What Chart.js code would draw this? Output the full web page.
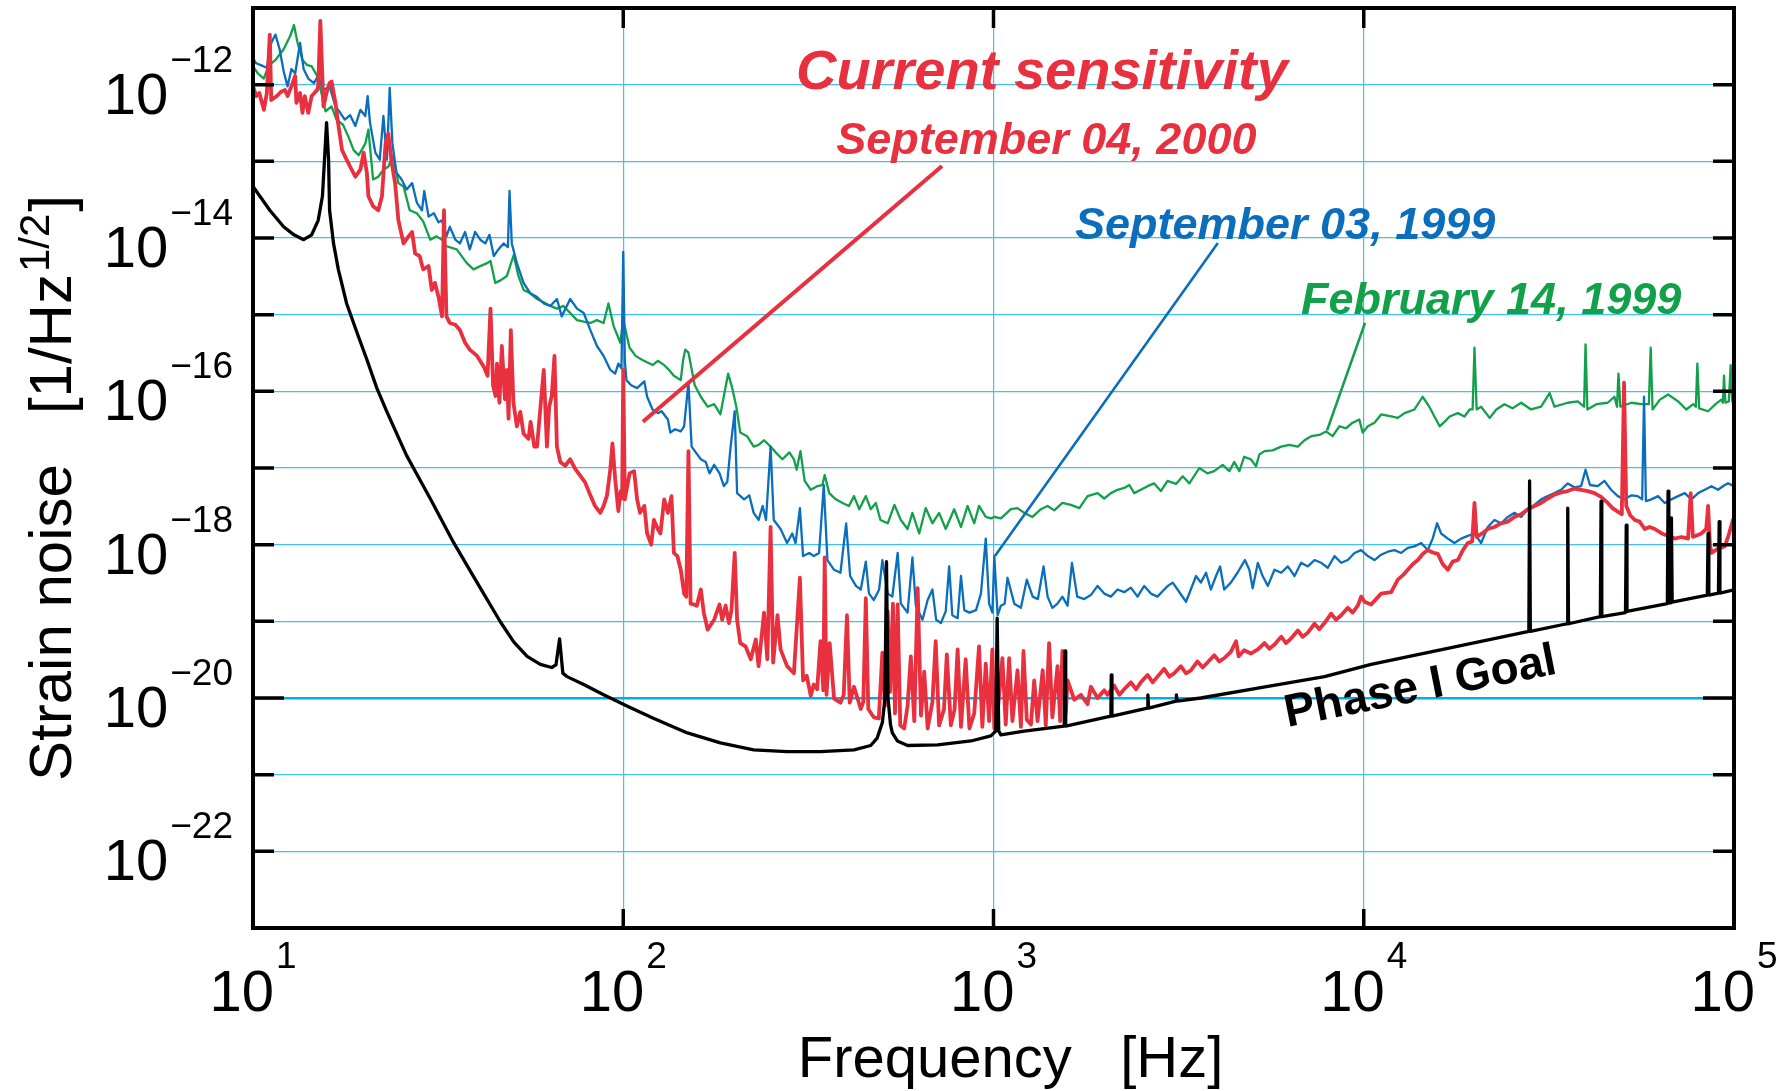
<!DOCTYPE html>
<html>
<head>
<meta charset="utf-8">
<title>Strain noise</title>
<script src="https://cdn.jsdelivr.net/npm/chart.js@4.4.1/dist/chart.umd.min.js"></script>
<style>
html, body { margin: 0; padding: 0; background: #fff; }
#wrap { width: 1790px; height: 1091px; }
</style>
</head>
<body>
<div id="wrap"><canvas id="c" width="1790" height="1091"></canvas></div>
<script>
// axes
const xMin = 10, xMax = 1e5, yMin = 1e-23, yMax = 1e-11;
const xGridValues = [1e1, 1e2, 1e3, 1e4, 1e5];
const xLabelExp = [1, 2, 3, 4, 5];
const yGridValues = [1e-11, 1e-12, 1e-13, 1e-14, 1e-15, 1e-16, 1e-17, 1e-18, 1e-19, 1e-20, 1e-21, 1e-22, 1e-23];
const yLabelExp = [-12, -14, -16, -18, -20, -22];

// Phase I Goal
const goalFreq = [10, 11.1, 12.1, 12.9, 13.7, 14.4, 15.0, 15.4, 15.6, 15.8,
  16.0, 16.1, 16.5, 17.0, 17.9, 19.1, 20.3, 21.6, 23.0, 26.0,
  30.1, 34.8, 40.3, 46.6, 50.6, 55.0, 59.7, 64.1, 65.8, 67.3,
  68.7, 70.5, 78.2, 88.5, 104, 121, 149, 183, 225, 277,
  341, 420, 466, 485, 501, 509, 514, 519, 527, 533,
  550, 586, 706, 869, 984, 1014, 1023, 1033, 1047, 1211,
  1552, 1560, 1567, 2075, 2080, 2089, 2606, 2612, 2624, 3112,
  3119, 3133, 3631, 5176, 7834, 10470, 27920, 28050, 28180, 35400,
  35560, 35730, 43550, 43750, 43950, 50930, 51170, 51400, 66070, 66370,
  66680, 67450, 67760, 68080, 84720, 85110, 85510, 90780, 91200, 91620,
  100000];
const goalStrain = [4.7e-14, 2.3e-14, 1.4e-14, 1.1e-14, 9.5e-15, 1.1e-14, 1.7e-14, 3.5e-14, 1.05e-13, 3.2e-13,
  1.05e-13, 2.3e-14, 8.5e-15, 3.9e-15, 1.4e-15, 5.8e-16, 2.6e-16, 1.1e-16, 5.4e-17, 1.45e-17,
  4.0e-18, 1.07e-18, 3.2e-19, 9.8e-20, 5.4e-20, 3.5e-20, 2.75e-20, 2.5e-20, 2.7e-20, 5.9e-20,
  2.1e-20, 1.9e-20, 1.5e-20, 1.1e-20, 7.6e-21, 5.4e-21, 3.5e-21, 2.6e-21, 2.1e-21, 2.0e-21,
  2.0e-21, 2.1e-21, 2.4e-21, 3.0e-21, 4.8e-21, 9.8e-21, 6.0e-19, 9.8e-21, 4.5e-21, 3.5e-21,
  2.75e-21, 2.4e-21, 2.45e-21, 2.75e-21, 3.2e-21, 3.7e-21, 1.1e-19, 3.7e-21, 3.3e-21, 3.7e-21,
  4.3e-21, 4.1e-20, 4.3e-21, 5.8e-21, 2.0e-20, 5.8e-21, 7.4e-21, 1.1e-20, 7.4e-21, 9.1e-21,
  1.1e-20, 9.1e-21, 1.0e-20, 1.35e-20, 1.9e-20, 2.75e-20, 7.4e-20, 6.8e-18, 7.4e-20, 9.3e-20,
  3.0e-18, 9.3e-20, 1.15e-19, 3.7e-18, 1.15e-19, 1.3e-19, 1.8e-18, 1.35e-19, 1.7e-19, 5.0e-18,
  1.74e-19, 1.74e-19, 2.24e-18, 1.78e-19, 2.2e-19, 1.4e-18, 2.2e-19, 2.34e-19, 2.0e-18, 2.34e-19,
  2.57e-19];

// September 04, 2000
const sep00Freq = [10.0, 10.2, 10.4, 10.7, 10.9, 11.1, 11.2, 11.6, 11.9, 12.2,
  12.4, 12.7, 13.0, 13.1, 13.4, 13.6, 13.8, 14.1, 14.4, 14.9,
  15.0, 15.2, 15.5, 15.8, 16.1, 16.3, 16.7, 17.0, 17.4, 17.9,
  18.3, 18.9, 19.5, 19.9, 20.3, 20.5, 21.1, 21.8, 22.3, 22.8,
  23.2, 23.7, 24.2, 24.7, 25.5, 26.3, 26.9, 27.4, 28.2, 28.8,
  29.8, 30.4, 31.0, 31.7, 32.4, 32.8, 33.3, 34.0, 35.2, 36.2,
  37.4, 38.5, 40.3, 42.0, 43.0, 43.8, 44.5, 45.2, 45.6, 46.3,
  47.0, 47.9, 48.5, 49.0, 49.7, 50.5, 51.6, 52.7, 53.8, 55.5,
  56.2, 57.5, 58.5, 59.7, 61.0, 62.2, 63.1, 64.1, 65.2, 66.2,
  67.6, 69.7, 71.9, 74.1, 76.6, 78.9, 81.5, 83.9, 86.7, 88.5,
  90.4, 92.3, 93.5, 95.1, 97.0, 98.4, 99.3, 100, 101, 104,
  107, 109, 111, 114, 116, 119, 121, 124, 126, 129,
  132, 135, 137, 140, 143, 146, 148, 150, 152, 155,
  158, 162, 165, 169, 172, 176, 182, 185, 189, 193,
  196, 200, 203, 207, 214, 221, 228, 232, 240, 245,
  250, 254, 261, 266, 277, 289, 300, 306, 313, 321,
  327, 334, 341, 347, 350, 354, 361, 371, 386, 394,
  402, 409, 420, 438, 445, 452, 459, 475, 490, 501,
  509, 518, 526, 535, 542, 551, 560, 574, 586, 598,
  611, 624, 637, 650, 664, 684, 698, 713, 735, 748,
  767, 785, 800, 817, 841, 861, 887, 914, 933, 953,
  973, 993, 1005, 1023, 1057, 1079, 1102, 1125, 1161, 1186,
  1205, 1230, 1262, 1288, 1315, 1358, 1384, 1413, 1442, 1489,
  1514, 1535, 1567, 1585, 1652, 1722, 1795, 1832, 1910, 1991,
  2032, 2118, 2188, 2254, 2350, 2427, 2500, 2606, 2692, 2773,
  2891, 2985, 3076, 3206, 3311, 3412, 3556, 3673, 3784, 3945,
  4074, 4198, 4375, 4519, 4592, 4753, 4955, 5176, 5395, 5559,
  5741, 5984, 6166, 6368, 6637, 6839, 7063, 7362, 7586, 7834,
  8166, 8414, 8690, 9057, 9333, 9638, 9840, 10050, 10470, 11140,
  11860, 12360, 12760, 13150, 13580, 14000, 14450, 14890, 15350, 15850,
  16330, 16870, 17380, 17950, 18530, 19100, 19630, 19910, 20180, 20890,
  21630, 22540, 23500, 24490, 25530, 26610, 27730, 28910, 30130, 31410,
  32730, 34120, 35560, 37070, 38640, 40270, 41980, 43750, 45600, 46990,
  48530, 49770, 50470, 51170, 52480, 53950, 55590, 57410, 59160, 61090,
  63830, 66530, 69180, 72110, 75160, 76380, 77450, 81660, 84140, 85110,
  86100, 86900, 90570, 94410, 96600, 99310, 100000];
const sep00Strain = [9.5e-13, 7.1e-13, 7.8e-13, 4.7e-13, 7.8e-13, 4.5e-12, 6.3e-13, 7.1e-13, 8.1e-13, 8.5e-13,
  7.1e-13, 9.5e-13, 1.3e-12, 5.8e-13, 7.8e-13, 4.3e-13, 7.1e-13, 4.3e-13, 7.1e-13, 8.5e-13,
  9.5e-13, 6.8e-12, 5.2e-13, 7.8e-13, 1.05e-12, 1.1e-12, 5.8e-13, 3.0e-13, 1.4e-13, 1.05e-13,
  8.5e-14, 6.3e-14, 7.8e-14, 1.3e-13, 7.1e-14, 3.5e-14, 2.6e-14, 2.3e-14, 3.5e-14, 1.7e-13,
  2.3e-13, 9.5e-14, 5.2e-14, 1.7e-14, 8.5e-15, 1.05e-14, 1.2e-14, 6.3e-15, 5.8e-15, 3.9e-15,
  4.3e-15, 2.1e-15, 2.6e-15, 1.7e-15, 9.5e-16, 2.3e-14, 9.5e-16, 7.8e-16, 7.4e-16, 6.3e-16,
  4.3e-16, 3.5e-16, 2.9e-16, 2.1e-16, 1.6e-16, 1.2e-15, 1.2e-16, 8.7e-17, 2.3e-16, 7.1e-17,
  3.9e-16, 7.9e-17, 1.9e-16, 4.4e-17, 6.3e-16, 7.2e-17, 3.5e-17, 5.4e-17, 2.8e-17, 2.4e-17,
  4.0e-17, 1.9e-17, 1.9e-17, 5.9e-17, 1.9e-16, 1.9e-17, 6.3e-17, 8.7e-17, 2.9e-16, 1.9e-17,
  1.2e-17, 1.07e-17, 1.3e-17, 9.8e-18, 7.9e-18, 6.5e-18, 4.4e-18, 3.2e-18, 2.6e-18, 3.2e-18,
  4.4e-18, 9.8e-18, 2.1e-17, 7.2e-18, 2.75e-18, 5.0e-18, 4.0e-18, 1.9e-16, 3.9e-18, 8.5e-18,
  9.1e-18, 3.9e-18, 2.6e-18, 3.2e-18, 1.4e-18, 1.0e-18, 2.1e-18, 1.6e-18, 1.4e-18, 3.9e-18,
  2.6e-18, 4.3e-18, 7.8e-19, 7.1e-19, 4.7e-19, 2.3e-19, 2.1e-19, 1.66e-17, 1.7e-19, 1.66e-19,
  1.6e-19, 2.6e-19, 1.3e-19, 7.8e-20, 8.9e-20, 1.05e-19, 1.66e-19, 1.05e-19, 1.6e-19, 9.5e-20,
  1.4e-19, 7.8e-19, 1.05e-19, 5.2e-20, 4.7e-20, 3.2e-20, 5.8e-20, 2.6e-20, 1.3e-19, 3.2e-20,
  1.7e-18, 2.9e-20, 1.2e-19, 4.3e-20, 2.6e-20, 2.1e-20, 3.7e-19, 1.7e-20, 1.95e-20, 1.07e-20,
  1.5e-20, 1.3e-20, 5.5e-20, 1.26e-20, 6.8e-19, 1.1e-20, 5.2e-20, 9.8e-21, 8.7e-21, 1.1e-20,
  1.2e-19, 8.7e-21, 1.4e-20, 7.2e-21, 8.9e-21, 2.0e-19, 7.2e-21, 5.6e-21, 5.4e-21, 3.9e-20,
  7.9e-21, 1.35e-19, 1.2e-20, 1.7e-19, 6.3e-21, 1.66e-19, 4.4e-21, 4.0e-21, 7.9e-21, 3.5e-20,
  5.0e-21, 2.7e-19, 5.9e-21, 2.2e-20, 4.0e-21, 8.9e-21, 5.5e-20, 4.4e-21, 7.1e-21, 3.7e-20,
  4.4e-21, 7.1e-21, 4.3e-20, 4.2e-21, 3.2e-20, 4.0e-21, 6.3e-21, 4.7e-20, 4.2e-21, 2.8e-20,
  5.0e-21, 4.3e-20, 4.0e-21, 5.6e-21, 3.3e-20, 4.5e-21, 3.3e-20, 5.0e-21, 2.3e-20, 4.2e-21,
  4.1e-20, 5.2e-21, 4.5e-21, 1.7e-20, 5.0e-21, 2.3e-20, 4.4e-21, 5.2e-20, 5.6e-21, 2.6e-20,
  5.0e-21, 4.1e-20, 6.3e-21, 1.7e-20, 9.5e-21, 1.1e-20, 8.3e-21, 1.4e-20, 1.0e-20, 1.26e-20,
  1.1e-20, 1.45e-20, 1.1e-20, 1.3e-20, 1.6e-20, 1.3e-20, 1.6e-20, 2.0e-20, 1.6e-20, 1.9e-20,
  2.4e-20, 1.9e-20, 2.1e-20, 2.6e-20, 2.1e-20, 2.3e-20, 3.0e-20, 2.5e-20, 2.9e-20, 3.6e-20,
  3.0e-20, 3.3e-20, 4.0e-20, 5.5e-20, 3.5e-20, 4.2e-20, 3.8e-20, 4.3e-20, 5.2e-20, 4.4e-20,
  5.0e-20, 6.3e-20, 5.2e-20, 6.0e-20, 7.6e-20, 6.3e-20, 7.1e-20, 9.3e-20, 7.9e-20, 9.5e-20,
  1.26e-19, 1.05e-19, 1.2e-19, 1.5e-19, 1.3e-19, 1.6e-19, 2.1e-19, 1.8e-19, 1.66e-19, 2.3e-19,
  2.4e-19, 3.5e-19, 4.0e-19, 4.7e-19, 5.6e-19, 6.3e-19, 7.6e-19, 8.5e-19, 7.9e-19, 7.6e-19,
  5.6e-19, 4.7e-19, 6.0e-19, 6.3e-19, 8.5e-19, 1.05e-18, 1.1e-18, 3.5e-18, 1.26e-18, 1.4e-18,
  1.6e-18, 1.7e-18, 1.9e-18, 2.0e-18, 2.3e-18, 2.5e-18, 2.9e-18, 3.2e-18, 3.5e-18, 4.0e-18,
  4.5e-18, 4.8e-18, 5.0e-18, 5.4e-18, 5.2e-18, 5.0e-18, 4.7e-18, 4.2e-18, 3.5e-18, 3.0e-18,
  2.7e-18, 2.5e-18, 1.3e-16, 3.2e-18, 2.4e-18, 2.1e-18, 2.0e-18, 1.6e-18, 1.7e-18, 1.6e-18,
  1.4e-18, 1.3e-18, 1.2e-18, 1.26e-18, 1.2e-18, 4.7e-18, 1.26e-18, 1.4e-18, 1.6e-18, 3.2e-18,
  1.0e-18, 7.8e-19, 8.9e-19, 9.5e-19, 1.3e-18, 2.1e-18, 1.8e-18];

// September 03, 1999
const sep99Freq = [10.0, 10.2, 10.5, 10.9, 11.2, 11.5, 11.8, 12.1, 12.4, 12.7,
  13.0, 13.4, 13.7, 14.1, 14.6, 15.0, 15.5, 16.1, 16.7, 17.2,
  17.7, 18.3, 18.9, 19.5, 20.1, 20.4, 20.7, 21.4, 22.0, 22.5,
  23.0, 23.4, 23.8, 24.4, 25.2, 26.0, 26.9, 27.7, 28.6, 29.0,
  29.8, 30.8, 31.7, 32.4, 33.3, 34.0, 35.2, 36.2, 37.4, 38.5,
  39.8, 41.1, 42.4, 43.5, 44.7, 46.0, 47.5, 48.8, 49.3, 50.0,
  51.6, 53.8, 56.1, 58.5, 61.0, 63.5, 66.2, 68.2, 71.9, 75.0,
  78.2, 81.5, 84.9, 88.5, 92.3, 95.1, 97.0, 98.9, 100, 101,
  102, 105, 109, 114, 116, 120, 124, 127, 132, 134,
  138, 143, 146, 150, 153, 157, 162, 167, 171, 176,
  182, 187, 191, 195, 200, 203, 212, 219, 225, 232,
  238, 243, 250, 255, 266, 277, 286, 292, 300, 306,
  318, 327, 338, 348, 356, 371, 386, 400, 410, 425,
  438, 452, 461, 475, 491, 501, 518, 533, 551, 562,
  586, 604, 617, 643, 664, 684, 700, 721, 743, 759,
  774, 800, 817, 834, 861, 897, 925, 953, 973, 993,
  1005, 1026, 1047, 1072, 1091, 1138, 1186, 1230, 1276, 1318,
  1365, 1400, 1442, 1489, 1535, 1585, 1629, 1683, 1758, 1832,
  1910, 1991, 2075, 2163, 2254, 2350, 2449, 2553, 2661, 2773,
  2891, 2958, 3048, 3141, 3311, 3412, 3524, 3631, 3750, 3864,
  3990, 4093, 4198, 4375, 4560, 4775, 4909, 5012, 5176, 5333,
  5508, 5741, 5984, 6237, 6501, 6776, 7063, 7362, 7674, 7998,
  8337, 8690, 9057, 9441, 9840, 10260, 10690, 11140, 11610, 12110,
  12620, 13150, 13710, 14290, 14890, 15350, 15780, 16180, 16870, 17580,
  18320, 19100, 19910, 20750, 21630, 22540, 23500, 24490, 25530, 26610,
  27730, 28910, 30130, 31410, 32730, 34120, 35560, 37070, 38640, 39720,
  40830, 42850, 44670, 46560, 48530, 50580, 52840, 54950, 56490, 57150,
  57810, 59840, 62370, 65010, 67760, 70630, 73620, 76740, 79980, 83370,
  86900, 90570, 94410, 96380, 100000];
const sep99Strain = [2.2e-12, 1.9e-12, 1.8e-12, 1.66e-12, 3.5e-12, 4.5e-12, 2.9e-12, 1.5e-12, 9.5e-13, 1.6e-12,
  1.4e-12, 3.5e-12, 1.6e-12, 1.2e-12, 1.05e-12, 1.3e-12, 8.5e-13, 9.5e-13, 5.2e-13, 4.3e-13,
  3.5e-13, 4.0e-13, 2.9e-13, 4.7e-13, 3.9e-13, 7.1e-13, 3.2e-13, 1.3e-13, 1.05e-13, 3.9e-13,
  1.05e-13, 9.1e-13, 1.7e-13, 7.1e-14, 5.8e-14, 4.3e-14, 5.2e-14, 2.9e-14, 2.3e-14, 4.1e-14,
  1.9e-14, 2.1e-14, 1.6e-14, 1.7e-14, 1.05e-14, 1.4e-14, 9.5e-15, 8.5e-15, 1.2e-14, 7.1e-15,
  1.2e-14, 9.5e-15, 8.5e-15, 1.1e-14, 5.8e-15, 7.1e-15, 8.5e-15, 7.6e-15, 4.1e-14, 8.5e-15,
  4.7e-15, 2.6e-15, 1.9e-15, 1.7e-15, 1.4e-15, 1.3e-15, 1.6e-15, 9.5e-16, 1.6e-15, 1.2e-15,
  1.05e-15, 6.3e-16, 3.9e-16, 2.9e-16, 1.9e-16, 1.7e-16, 2.3e-16, 2.0e-16, 6.6e-15, 2.5e-16,
  1.4e-16, 1.2e-16, 1.1e-16, 1.35e-16, 8.5e-17, 5.8e-17, 5.2e-17, 5.5e-17, 4.3e-17, 2.9e-17,
  3.2e-17, 3.0e-17, 3.5e-17, 1.3e-16, 1.9e-17, 1.6e-17, 1.3e-17, 1.2e-17, 8.5e-18, 1.1e-17,
  8.5e-18, 5.8e-18, 6.6e-18, 1.9e-17, 5.5e-17, 4.7e-18, 3.9e-18, 4.4e-18, 2.6e-18, 2.1e-18,
  3.2e-18, 2.1e-18, 1.9e-17, 2.1e-18, 1.6e-18, 1.05e-18, 1.4e-18, 1.05e-18, 3.0e-18, 7.1e-19,
  7.8e-19, 7.1e-19, 7.8e-19, 6.0e-18, 6.3e-19, 4.7e-19, 4.3e-19, 1.9e-18, 3.9e-19, 2.9e-19,
  2.6e-19, 6.0e-19, 2.3e-19, 1.9e-19, 2.6e-19, 6.3e-19, 2.3e-19, 2.1e-19, 7.8e-19, 1.7e-19,
  1.3e-19, 6.8e-19, 1.6e-19, 1.05e-19, 1.9e-19, 2.6e-19, 1.05e-19, 9.5e-20, 1.35e-19, 5.2e-19,
  1.2e-19, 1.1e-19, 3.9e-19, 1.4e-19, 1.3e-19, 1.4e-19, 2.3e-19, 1.2e-18, 1.7e-19, 1.3e-19,
  7.1e-19, 1.2e-19, 1.6e-19, 1.7e-19, 3.7e-19, 1.7e-19, 1.5e-19, 3.5e-19, 2.1e-19, 1.95e-19,
  5.2e-19, 2.1e-19, 1.5e-19, 1.7e-19, 2.1e-19, 1.6e-19, 5.8e-19, 2.1e-19, 1.95e-19, 2.2e-19,
  2.9e-19, 2.3e-19, 2.1e-19, 2.6e-19, 2.4e-19, 2.75e-19, 2.1e-19, 2.9e-19, 2.3e-19, 2.1e-19,
  2.6e-19, 2.9e-19, 3.2e-19, 2.6e-19, 1.8e-19, 2.6e-19, 3.9e-19, 3.2e-19, 4.3e-19, 2.6e-19,
  3.9e-19, 5.2e-19, 2.6e-19, 3.2e-19, 4.3e-19, 6.3e-19, 4.7e-19, 2.7e-19, 5.8e-19, 3.9e-19,
  2.9e-19, 4.7e-19, 4.3e-19, 5.2e-19, 3.9e-19, 5.8e-19, 5.2e-19, 6.3e-19, 5.8e-19, 5.0e-19,
  7.1e-19, 5.8e-19, 6.3e-19, 7.8e-19, 8.5e-19, 7.1e-19, 6.3e-19, 7.4e-19, 8.1e-19, 8.5e-19,
  7.8e-19, 9.1e-19, 9.5e-19, 1.05e-18, 8.5e-19, 1.2e-18, 1.9e-18, 1.4e-18, 1.2e-18, 1.05e-18,
  1.2e-18, 1.3e-18, 1.4e-18, 1.05e-18, 1.7e-18, 2.1e-18, 1.9e-18, 2.3e-18, 2.6e-18, 2.3e-18,
  2.9e-18, 3.3e-18, 3.9e-18, 4.3e-18, 4.7e-18, 5.2e-18, 6.3e-18, 5.6e-18, 5.8e-18, 9.5e-18,
  6.0e-18, 5.8e-18, 6.8e-18, 5.2e-18, 4.3e-18, 3.9e-18, 4.4e-18, 4.3e-18, 3.9e-18, 8.5e-17,
  3.7e-18, 3.9e-18, 4.3e-18, 3.5e-18, 3.9e-18, 4.3e-18, 4.7e-18, 3.9e-18, 4.7e-18, 5.2e-18,
  5.8e-18, 5.2e-18, 6.0e-18, 6.3e-18, 5.8e-18];

// February 14, 1999
const feb99Freq = [10.0, 10.3, 10.7, 11.0, 11.5, 12.1, 12.6, 12.9, 13.2, 13.6,
  14.0, 14.4, 14.9, 15.3, 15.7, 16.3, 16.8, 17.5, 18.1, 18.7,
  19.3, 20.1, 20.5, 21.1, 21.8, 22.5, 23.2, 23.9, 24.7, 25.5,
  26.5, 27.7, 28.8, 30.1, 31.3, 32.4, 33.3, 35.5, 37.8, 39.4,
  41.1, 42.9, 43.8, 45.1, 46.6, 48.5, 50.6, 52.1, 53.8, 56.1,
  58.5, 61.0, 63.5, 66.2, 69.0, 71.9, 75.0, 78.2, 81.5, 84.9,
  88.5, 91.2, 94.2, 98.2, 100, 104, 108, 112, 120, 124,
  129, 133, 137, 143, 145, 147, 150, 156, 162, 169,
  176, 183, 188, 192, 197, 202, 207, 216, 225, 232,
  240, 250, 258, 269, 281, 289, 294, 301, 309, 321,
  334, 345, 350, 360, 375, 391, 407, 420, 434, 452,
  466, 481, 495, 518, 540, 562, 586, 604, 630, 656,
  684, 713, 743, 783, 817, 851, 887, 914, 953, 984,
  1005, 1047, 1114, 1161, 1211, 1274, 1343, 1400, 1459, 1535,
  1618, 1706, 1795, 1910, 1991, 2075, 2163, 2254, 2328, 2399,
  2500, 2606, 2716, 2831, 2951, 3112, 3243, 3381, 3597, 3784,
  3945, 4159, 4335, 4467, 4613, 4753, 4955, 5117, 5224, 5395,
  5675, 5984, 6295, 6637, 6918, 7211, 7586, 7907, 8241, 8590,
  8954, 9333, 9727, 9931, 10260, 10690, 11140, 11860, 12360, 12880,
  13710, 14420, 15030, 15520, 16030, 16520, 17060, 17950, 18710, 19320,
  19680, 19910, 20180, 20750, 21880, 22800, 23990, 25230, 26610, 28310,
  30130, 31770, 32730, 35560, 37840, 39360, 39720, 40180, 42460, 45600,
  47530, 48310, 48750, 49320, 52840, 56230, 58880, 59570, 60260, 63100,
  66370, 70630, 74300, 77620, 78890, 79620, 80540, 85110, 89130, 92470,
  93330, 93970, 94840, 96830, 97950, 98860, 100000];
const feb99Strain = [1.74e-12, 1.4e-12, 1.2e-12, 1.74e-12, 2.1e-12, 2.9e-12, 4.3e-12, 6.0e-12, 3.5e-12, 2.1e-12,
  1.8e-12, 1.74e-12, 1.3e-12, 7.8e-13, 4.5e-13, 5.2e-13, 3.5e-13, 3.0e-13, 2.1e-13, 1.4e-13,
  1.2e-13, 1.7e-13, 2.6e-13, 5.8e-14, 6.3e-14, 7.8e-14, 8.5e-14, 1.2e-13, 5.2e-14, 4.7e-14,
  2.3e-14, 2.1e-14, 1.66e-14, 9.5e-15, 1.05e-14, 9.5e-15, 7.8e-15, 7.1e-15, 4.7e-15, 3.9e-15,
  4.3e-15, 4.7e-15, 5.0e-15, 2.6e-15, 2.8e-15, 3.2e-15, 6.0e-15, 3.2e-15, 2.1e-15, 1.9e-15,
  1.6e-15, 1.45e-15, 1.3e-15, 1.2e-15, 1.3e-15, 1.05e-15, 8.5e-16, 8.1e-16, 7.8e-16, 8.5e-16,
  7.8e-16, 1.4e-15, 7.1e-16, 4.3e-16, 8.5e-16, 3.7e-16, 2.9e-16, 2.6e-16, 2.2e-16, 2.5e-16,
  2.2e-16, 1.9e-16, 1.6e-16, 1.4e-16, 2.5e-16, 3.5e-16, 3.2e-16, 1.2e-16, 8.5e-17, 6.3e-17,
  6.8e-17, 5.0e-17, 1.0e-16, 1.7e-16, 1.1e-16, 6.3e-17, 2.9e-17, 2.6e-17, 1.9e-17, 2.0e-17,
  2.3e-17, 1.9e-17, 1.6e-17, 1.3e-17, 1.6e-17, 1.3e-17, 9.5e-18, 1.66e-17, 6.8e-18, 5.2e-18,
  5.8e-18, 6.0e-18, 8.1e-18, 4.7e-18, 3.9e-18, 3.5e-18, 3.2e-18, 4.3e-18, 2.9e-18, 4.3e-18,
  2.9e-18, 3.5e-18, 2.1e-18, 1.9e-18, 3.3e-18, 2.1e-18, 1.6e-18, 2.6e-18, 1.4e-18, 3.0e-18,
  1.9e-18, 2.6e-18, 1.6e-18, 2.9e-18, 1.7e-18, 3.2e-18, 1.9e-18, 3.2e-18, 2.3e-18, 2.2e-18,
  2.3e-18, 2.2e-18, 2.9e-18, 3.0e-18, 2.6e-18, 2.3e-18, 2.9e-18, 3.2e-18, 2.8e-18, 3.5e-18,
  3.3e-18, 3.0e-18, 4.3e-18, 4.7e-18, 4.0e-18, 4.7e-18, 5.2e-18, 5.5e-18, 6.0e-18, 4.7e-18,
  5.2e-18, 5.8e-18, 6.3e-18, 5.0e-18, 6.8e-18, 6.2e-18, 7.8e-18, 6.3e-18, 1.0e-17, 8.5e-18,
  9.1e-18, 1.1e-17, 9.1e-18, 1.2e-17, 9.1e-18, 1.4e-17, 1.3e-17, 1.05e-17, 1.5e-17, 1.66e-17,
  1.7e-17, 1.9e-17, 2.0e-17, 1.9e-17, 2.3e-17, 2.6e-17, 2.7e-17, 3.0e-17, 2.6e-17, 3.5e-17,
  3.3e-17, 3.9e-17, 4.3e-17, 2.9e-17, 3.5e-17, 3.9e-17, 5.0e-17, 4.7e-17, 4.5e-17, 5.2e-17,
  5.8e-17, 8.5e-17, 6.3e-17, 4.7e-17, 3.5e-17, 4.0e-17, 4.7e-17, 5.2e-17, 4.7e-17, 5.8e-17,
  5.8e-17, 3.7e-16, 5.8e-17, 6.3e-17, 4.5e-17, 5.8e-17, 6.8e-17, 6.0e-17, 7.1e-17, 5.8e-17,
  6.3e-17, 9.5e-17, 6.3e-17, 7.1e-17, 7.4e-17, 6.3e-17, 4.1e-16, 5.8e-17, 6.8e-17, 7.1e-17,
  8.5e-17, 6.3e-17, 1.7e-16, 6.3e-17, 7.1e-17, 6.8e-17, 6.8e-17, 3.7e-16, 5.8e-17, 7.8e-17,
  9.1e-17, 7.4e-17, 5.8e-17, 6.8e-17, 6.3e-17, 2.3e-16, 6.0e-17, 5.5e-17, 6.8e-17, 7.8e-17,
  7.1e-17, 1.6e-16, 7.1e-17, 7.4e-17, 2.2e-16, 7.8e-17, 5.8e-17];

// pointer lines from the labels to the curves
const sep00PointerFreq = [726, 113], sep00PointerStrain = [8.7e-14, 4.0e-17];
const sep99PointerFreq = [4036, 1009], sep99PointerStrain = [8.6e-15, 7.1e-19];
const feb99PointerFreq = [10080, 7960], feb99PointerStrain = [7.8e-16, 3.1e-17];

// labels in the plot
const noteText = ['Current sensitivity', 'September 04, 2000', 'September 03, 1999', 'February 14, 1999', 'Phase I Goal'];
const noteFreq = [293, 376, 1660, 6770, 14450];
const noteStrain = [8.8e-13, 1.25e-13, 9.7e-15, 1.02e-15, 9.4e-21];

const RED = '#e8303f', BLUE = '#0a6ebd', GREEN = '#12a04a', BLACK = '#000000';
const GRID = '#42c0ee';
const FONT = '"Liberation Sans", Arial, Helvetica, sans-serif';

function pts(fs, hs) {
  return fs.map((f, i) => ({ x: f, y: hs[i] }));
}

function line(data, color, width) {
  return { data, borderColor: color, borderWidth: width, showLine: true, pointRadius: 0,
           fill: false, tension: 0, borderJoinStyle: 'round', borderCapStyle: 'butt' };
}

const datasets = [
  line(pts(sep00PointerFreq, sep00PointerStrain), RED, 4),
  line(pts(sep99PointerFreq, sep99PointerStrain), BLUE, 2.6),
  line(pts(feb99PointerFreq, feb99PointerStrain), GREEN, 2.6),
  line(pts(goalFreq, goalStrain), BLACK, 3.3),
  line(pts(sep00Freq, sep00Strain), RED, 3.8),
  line(pts(sep99Freq, sep99Strain), BLUE, 2.3),
  line(pts(feb99Freq, feb99Strain), GREEN, 2.3)
];

function drawPow(ctx, xLeft, base, supBase, exp, bigPx, supPx) {
  ctx.font = bigPx + 'px ' + FONT;
  ctx.fillText('10', xLeft, base);
  const w = ctx.measureText('10').width;
  ctx.font = supPx + 'px ' + FONT;
  ctx.fillText(exp, xLeft + w + 2, supBase);
}

function powWidth(ctx, exp, bigPx, supPx) {
  ctx.font = bigPx + 'px ' + FONT;
  const w = ctx.measureText('10').width;
  ctx.font = supPx + 'px ' + FONT;
  return w + 2 + ctx.measureText(exp).width;
}

const decor = {
  id: 'decor',
  afterDraw(chart) {
    const { ctx, chartArea: a } = chart;
    const sx = chart.scales.x, sy = chart.scales.y;
    ctx.save();

    // inward ticks
    ctx.strokeStyle = '#000';
    ctx.lineWidth = 3.5;
    ctx.beginPath();
    yGridValues.forEach(v => {
      if (v >= yMax || v <= yMin) return;
      const py = sy.getPixelForValue(v);
      const len = v === 1e-20 ? 31 : 21;
      ctx.moveTo(a.left, py); ctx.lineTo(a.left + len, py);
      ctx.moveTo(a.right, py); ctx.lineTo(a.right - len, py);
    });
    xGridValues.forEach(v => {
      if (v >= xMax || v <= xMin) return;
      const px = sx.getPixelForValue(v);
      ctx.moveTo(px, a.top); ctx.lineTo(px, a.top + 20);
      ctx.moveTo(px, a.bottom); ctx.lineTo(px, a.bottom - 19);
    });
    ctx.stroke();

    // frame
    ctx.lineWidth = 4;
    ctx.strokeRect(a.left, a.top, a.right - a.left, a.bottom - a.top);

    // tick labels
    ctx.fillStyle = '#000';
    ctx.textAlign = 'left';
    ctx.textBaseline = 'alphabetic';
    yLabelExp.forEach(e => {
      const py = sy.getPixelForValue(Math.pow(10, e));
      const sup = '\u2212' + Math.abs(e);
      const w = powWidth(ctx, sup, 58, 37);
      drawPow(ctx, a.left - 20 - w, py + 29, py - 13, sup, 58, 37);
    });
    xLabelExp.forEach(e => {
      const px = sx.getPixelForValue(Math.pow(10, e));
      const sup = String(e);
      const w = powWidth(ctx, sup, 58, 37);
      drawPow(ctx, px - w / 2, a.bottom + 83, a.bottom + 40, sup, 58, 37);
    });

    // axis titles
    ctx.font = '58px ' + FONT;
    ctx.textAlign = 'center';
    ctx.fillText('Frequency   [Hz]', (a.left + a.right) / 2 + 17, a.bottom + 149);

    ctx.save();
    ctx.translate(71, (a.top + a.bottom) / 2 + 20);
    ctx.rotate(-Math.PI / 2);
    ctx.textAlign = 'left';
    const t1 = 'Strain noise   [1/Hz', t2 = '1/2', t3 = ']';
    ctx.font = '60px ' + FONT;
    const w1 = ctx.measureText(t1).width, w3 = ctx.measureText(t3).width;
    ctx.font = '42px ' + FONT;
    const w2 = ctx.measureText(t2).width;
    const x0 = -(w1 + w2 + w3 + 4) / 2;
    ctx.font = '60px ' + FONT;
    ctx.fillText(t1, x0, 0);
    ctx.fillText(t3, x0 + w1 + w2 + 4, 0);
    ctx.font = '42px ' + FONT;
    ctx.fillText(t2, x0 + w1 + 2, -22);
    ctx.restore();

    // curve labels
    const noteStyle = [
      { font: 'italic bold 56px ' + FONT, color: RED, align: 'left', angle: 0 },
      { font: 'italic bold 45px ' + FONT, color: RED, align: 'left', angle: 0 },
      { font: 'italic bold 45px ' + FONT, color: BLUE, align: 'left', angle: 0 },
      { font: 'italic bold 45px ' + FONT, color: GREEN, align: 'left', angle: 0 },
      { font: 'bold 46px ' + FONT, color: BLACK, align: 'center', angle: -11.2 }
    ];
    noteText.forEach((t, i) => {
      const s = noteStyle[i];
      ctx.save();
      ctx.translate(sx.getPixelForValue(noteFreq[i]), sy.getPixelForValue(noteStrain[i]));
      ctx.rotate(s.angle * Math.PI / 180);
      ctx.font = s.font;
      ctx.fillStyle = s.color;
      ctx.textAlign = s.align;
      ctx.fillText(t, 0, 0);
      ctx.restore();
    });
    ctx.restore();
  }
};

new Chart(document.getElementById('c'), {
  type: 'scatter',
  data: { datasets },
  options: {
    responsive: false,
    animation: false,
    devicePixelRatio: 1,
    layout: { padding: { left: 253, right: 56, top: 8, bottom: 163 } },
    plugins: { legend: { display: false }, tooltip: { enabled: false } },
    scales: {
      x: {
        type: 'logarithmic', min: xMin, max: xMax,
        afterBuildTicks: s => { s.ticks = xGridValues.map(v => ({ value: v })); },
        ticks: { display: false },
        grid: { color: GRID, lineWidth: 1.2, drawTicks: false },
        border: { display: false }
      },
      y: {
        type: 'logarithmic', min: yMin, max: yMax,
        afterBuildTicks: s => { s.ticks = yGridValues.map(v => ({ value: v })); },
        ticks: { display: false },
        grid: {
          color: c => (c.tick && c.tick.value === 1e-20 ? '#00aee8' : GRID),
          lineWidth: c => (c.tick && c.tick.value === 1e-20 ? 2.4 : 1.2),
          drawTicks: false
        },
        border: { display: false }
      }
    }
  },
  plugins: [decor]
});
</script>
</body>
</html>
